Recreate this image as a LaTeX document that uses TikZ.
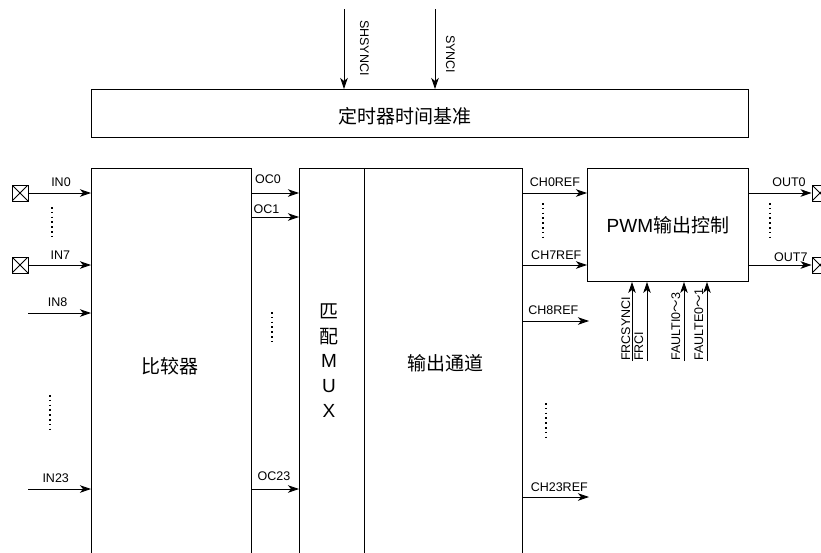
\documentclass[tikz,border=0pt]{standalone}
\usepackage{fontspec}
\setmainfont{Liberation Sans}
\newfontfamily\cjk{Noto Sans CJK SC}
\usepackage{tikz}
\usetikzlibrary{arrows.meta,positioning,calc}
\tikzset{
  blkbox/.style ={draw, line width=0.9pt, inner sep=0pt, anchor=north west},
  bigtxt/.style ={font=\fontsize{19}{24.75}\selectfont, inner sep=0pt},
  lbl/.style    ={font=\fontsize{12.5}{14}\selectfont, inner sep=0pt},
  xbox/.style   ={draw, line width=0.9pt, minimum size=16pt, inner sep=0pt,
                  path picture={
                    \draw[line width=0.9pt]
                      (path picture bounding box.north west)--(path picture bounding box.south east)
                      (path picture bounding box.south west)--(path picture bounding box.north east);}},
  arr/.style    ={-{Stealth[length=11pt,width=7.5pt,inset=3pt]}, line width=0.9pt},
  dotv/.style   ={line width=1.6pt, dash pattern=on 1.6pt off 3.2pt},
}

\begin{document}
\begin{tikzpicture}[x=1pt,y=-1pt]
  \useasboundingbox (0,0) rectangle (821,552);
  % blocks
  \node[blkbox, minimum width=657pt, minimum height=48pt] (timer) at (91,89) {};
  \node[blkbox, minimum width=160pt, minimum height=420pt] (cmp) at (91,168) {};
  \node[blkbox, minimum width=65pt, minimum height=420pt] (mux) at (299,168) {};
  \node[blkbox, minimum width=158pt, minimum height=420pt] (och) at (364,168) {};
  \node[blkbox, bigtxt, minimum width=161pt, minimum height=113pt] (pwm) at (587,168) {PWM{\cjk 输出控制}};
  \node[bigtxt] (ltimer) at (405,116) {\cjk 定时器时间基准};
  \node[bigtxt] (lcmp) at (170,366.5) {\cjk 比较器};
  \node[bigtxt, align=center] (lmux) at (329,360.5) {{\cjk 匹}\\{\cjk 配}\\M\\U\\X};
  \node[bigtxt] (loch) at (445,363.5) {\cjk 输出通道};

  % pins
  \node[xbox] (pin0) at (20,193) {};
  \node[xbox] (pin7) at (20,265) {};
  \node[xbox] (pout0) at (820,193) {};
  \node[xbox] (pout7) at (820,265) {};
  \coordinate (in8) at (28,313);
  \coordinate (in23) at (28,489);
  \coordinate (ch8) at (589,321);
  \coordinate (ch23) at (589,497);
  \coordinate (shs) at (344,9);
  \coordinate (syn) at (435,9);
  \coordinate (frs) at (632,361);
  \coordinate (frc) at (647,361);
  \coordinate (fti) at (684,361);
  \coordinate (fte) at (707,361);

  % inputs
  \draw[arr] (pin0.east) -- (pin0.east -| cmp.west) node[lbl, pos=.52, above=6pt] (lin0) {IN0};
  \draw[arr] (pin7.east) -- (pin7.east -| cmp.west) node[lbl, pos=.51, above=5pt] (lin7) {IN7};
  \draw[arr] (in8) -- (in8 -| cmp.west) node[lbl, pos=.47, above=6pt] (lin8) {IN8};
  \draw[arr] (in23) -- (in23 -| cmp.west) node[lbl, pos=.44, above=6pt] (lin23) {IN23};
  \draw[dotv] (52,207) -- (52,240);
  \draw[dotv] (50,395) -- (50,429);

  % comparator outputs
  \draw[arr] ([yshift=-25pt]cmp.north east) -- ([yshift=-25pt]mux.north west)
    node[lbl, pos=.34, above=9pt] (loc0) {OC0};
  \draw[arr] ([yshift=-49pt]cmp.north east) -- ([yshift=-49pt]mux.north west)
    node[lbl, pos=.31, above=3pt] (loc1) {OC1};
  \draw[arr] ([yshift=-321pt]cmp.north east) -- ([yshift=-321pt]mux.north west)
    node[lbl, pos=.47, above=8pt] (loc23) {OC23};
  \draw[dotv] (272,312) -- (272,345);

  % channel refs
  \draw[arr] ([yshift=-25pt]och.north east) -- ([yshift=-25pt]pwm.north west)
    node[lbl, pos=.5, above=6pt] (lch0) {CH0REF};
  \draw[arr] ([yshift=-97pt]och.north east) -- ([yshift=-97pt]pwm.north west)
    node[lbl, pos=.52, above=5pt] (lch7) {CH7REF};
  \draw[arr] ([yshift=-153pt]och.north east) -- (ch8)
    node[lbl, pos=.46, above=6pt] (lch8) {CH8REF};
  \draw[arr] ([yshift=-329pt]och.north east) -- (ch23)
    node[lbl, pos=.55, above=5pt] (lch23) {CH23REF};
  \draw[dotv] (543,203) -- (543,237);
  \draw[dotv] (546,403) -- (546,437);

  % outputs
  \draw[arr] ([yshift=-25pt]pwm.north east) -- (pout0.west)
    node[lbl, pos=.64, above=6pt] (lout0) {OUT0};
  \draw[arr] ([yshift=-97pt]pwm.north east) -- (pout7.west)
    node[lbl, pos=.67, above=3pt] (lout7) {OUT7};
  \draw[dotv] (770,203) -- (770,237);

  % sync inputs
  \draw[arr] (shs) -- (shs |- timer.north);
  \draw[arr] (syn) -- (syn |- timer.north);
  \node[lbl, rotate=-90, anchor=base west] (lshs) at (360,20) {SHSYNCI};
  \node[lbl, rotate=-90, anchor=base west] (lsyn) at (446,35) {SYNCI};

  % fault / force inputs
  \draw[arr] (frs) -- (frs |- pwm.south);
  \draw[arr] (frc) -- (frc |- pwm.south);
  \draw[arr] (fti) -- (fti |- pwm.south);
  \draw[arr] (fte) -- (fte |- pwm.south);
  \node[lbl, rotate=90, anchor=base west] (lfrs) at (630,361) {FRCSYNCI};
  \node[lbl, rotate=90, anchor=base west] (lfrc) at (643,361) {FRCI};
  \node[lbl, rotate=90, anchor=base west] (lfti) at (680,361) {FAULTI0{\cjk ～}3};
  \node[lbl, rotate=90, anchor=base west] (lfte) at (703,361) {FAULTE0{\cjk ～}1};
\end{tikzpicture}
\end{document}
